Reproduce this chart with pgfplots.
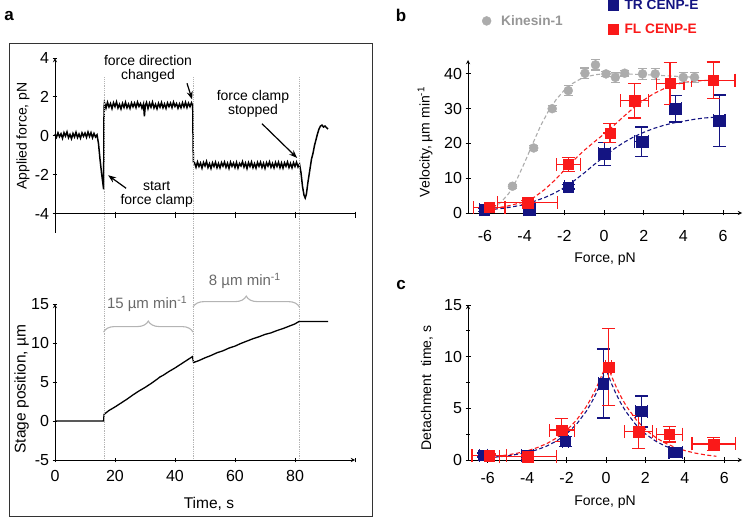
\documentclass[border=0pt]{standalone}
\usepackage{fontspec}
\setmainfont{Liberation Sans}
\usepackage{pgfplots}
\usepackage{pgfplotstable}
\pgfplotsset{compat=1.18}
\usetikzlibrary{arrows.meta,decorations.pathreplacing}

\definecolor{navyc}{RGB}{20,20,130}
\definecolor{redc}{RGB}{250,25,25}
\definecolor{grayc}{RGB}{172,172,172}
\definecolor{graytext}{RGB}{150,150,150}
\definecolor{bracegray}{RGB}{180,180,180}
\definecolor{labelgray}{RGB}{105,105,105}

\pgfplotstableread{
t f
0 0.10
0.5 -0.08
1 0.15
1.5 -0.05
2 0.10
2.5 -0.13
3 0.16
3.5 -0.02
4 0.20
4.5 -0.10
5 0.07
5.5 -0.15
6 0.12
6.5 -0.06
7 0.18
7.5 -0.09
8 0.09
8.5 -0.12
9 0.15
9.5 -0.03
10 0.14
10.5 -0.08
11 0.19
11.5 -0.04
12 0.16
12.5 -0.10
13 0.12
13.5 -0.06
14 0.05
14.5 -0.4
15 -1.2
15.5 -1.9
16 -2.5
16.2 -2.75
16.35 1.45
16.5 1.70
17 1.42
17.5 1.72
18 1.48
18.5 1.66
19 1.40
19.5 1.70
20 1.50
20.5 1.74
21 1.43
21.5 1.62
22 1.38
22.5 1.67
23 1.46
23.5 1.72
24 1.44
24.5 1.63
25 1.41
25.5 1.69
26 1.49
26.5 1.68
27 1.45
27.5 1.73
28 1.51
28.5 1.66
29 1.42
29.5 1.64
29.8 1.0
30.1 1.55
30.5 1.71
31 1.40
31.5 1.68
32 1.47
32.5 1.73
33 1.43
33.5 1.62
34 1.39
34.5 1.67
35 1.47
35.5 1.71
36 1.44
36.5 1.64
37 1.41
37.5 1.69
38 1.50
38.5 1.68
39 1.45
39.5 1.73
40 1.51
40.5 1.66
41 1.42
41.5 1.64
42 1.44
42.5 1.70
43 1.48
43.5 1.72
44 1.45
44.5 1.68
45 1.50
45.5 1.70
45.9 1.55
46.05 -0.6
46.15 -1.35
46.5 -1.38
47 -1.62
47.5 -1.35
48 -1.58
48.5 -1.40
49 -1.66
49.5 -1.37
50 -1.55
50.5 -1.32
51 -1.63
51.5 -1.43
52 -1.68
52.5 -1.39
53 -1.58
53.5 -1.36
54 -1.64
54.5 -1.42
55 -1.65
55.5 -1.38
56 -1.56
56.5 -1.35
57 -1.62
57.5 -1.41
58 -1.67
58.5 -1.36
59 -1.57
59.5 -1.40
60 -1.63
60.5 -1.37
61 -1.66
61.5 -1.42
62 -1.55
62.5 -1.33
63 -1.61
63.5 -1.40
64 -1.68
64.5 -1.38
65 -1.58
65.5 -1.35
66 -1.64
66.5 -1.43
67 -1.66
67.5 -1.37
68 -1.57
68.5 -1.36
69 -1.63
69.5 -1.41
70 -1.67
70.5 -1.38
71 -1.56
71.5 -1.34
72 -1.62
72.5 -1.42
73 -1.65
73.5 -1.37
74 -1.58
74.5 -1.36
75 -1.64
75.5 -1.40
76 -1.66
76.5 -1.39
77 -1.57
77.5 -1.35
78 -1.63
78.5 -1.42
79 -1.65
79.5 -1.38
80 -1.58
80.5 -1.36
81 -1.60
81.5 -1.45
82 -1.9
82.5 -2.6
83 -3.05
83.4 -3.2
83.8 -3.0
84.3 -2.4
85 -1.7
85.5 -1.2
86 -0.9
86.5 -0.5
87 -0.2
87.5 0.1
88 0.35
88.5 0.5
89 0.55
89.5 0.45
90 0.5
90.5 0.42
91 0.35
}\forcedata

\pgfplotstableread{
t s
0 0
16.2 0
16.35 0.85
18 1.35
20 1.8
22 2.3
24 2.8
26 3.35
28 3.85
30 4.3
32 4.8
34 5.35
35 5.65
36 5.85
38 6.35
40 6.8
42 7.3
44 7.8
45.8 8.25
46.2 7.5
48 7.75
50 8.1
52 8.4
54 8.75
56 9.0
58 9.35
60 9.6
62 9.95
64 10.25
66 10.55
68 10.8
70 11.1
72 11.3
74 11.6
76 11.85
78 12.15
80 12.45
81.3 12.75
91 12.75
}\stagedata

% panel b
\pgfplotstableread{
x y ey
-4.61 7.7 0.6
-3.54 18.7 0.8
-2.61 30.0 0.8
-1.80 35.2 1.5
-0.96 40.2 1.5
-0.43 42.6 1.5
0.10 40.0 0.8
0.57 39.0 1.5
1.04 40.2 0.8
1.94 40.0 1.5
2.58 40.0 1.5
3.99 39.0 1.5
4.56 39.0 1.5
}\kinb

\pgfplotstableread{
x y ex ey
-5.78 1.6 0.8 0.6
-3.85 3.0 1.5 0.6
-1.80 14.0 0.6 2.0
0.30 23.0 0.0 2.7
1.54 32.3 0.7 5.0
3.33 37.3 0.7 6.0
5.50 38.2 1.1 5.2
}\redb

\pgfplotstableread{
x y ex ey
-6.03 0.9 0.25 0.4
-3.77 1.0 0.3 0.4
-1.80 7.5 0.2 0.6
0.03 17.0 0.3 3.3
1.90 20.5 0.35 4.2
3.61 30.0 0.3 3.8
5.80 26.5 0.3 7.4
}\navyb

\pgfplotstableread{
x y
-5.6 1.5
-5.2 3.0
-4.8 5.6
-4.4 9.5
-4.0 14.5
-3.6 19.8
-3.2 25.0
-2.8 29.3
-2.4 32.7
-2.0 35.3
-1.6 37.2
-1.2 38.5
-0.8 39.3
-0.4 39.8
0 40.0
1 40.0
2 39.8
3 39.5
4 39.2
4.7 39.0
}\kinfit

\pgfplotstableread{
x y
-6.2 1.1
-5 1.8
-4 3.2
-3.5 4.6
-3 6.7
-2.5 9.3
-2 12.3
-1.5 15.3
-1 18.0
-0.5 20.4
0 22.7
0.5 25.2
1 27.8
1.5 30.3
2 32.5
2.5 34.3
3 35.7
3.5 36.8
4 37.5
4.5 37.9
5 38.1
5.6 38.2
}\redfitb

\pgfplotstableread{
x y
-6.2 0.7
-5 1.4
-4 2.4
-3 4.4
-2.5 5.7
-2 7.3
-1.5 9.3
-1 11.5
-0.5 13.9
0 16.2
0.5 18.4
1 20.3
1.5 21.9
2 23.2
2.5 24.3
3 25.2
3.5 25.9
4 26.4
4.5 26.9
5 27.3
5.7 27.6
}\navyfitb

% panel c
\pgfplotstableread{
x y ex ey
-6.22 0.48 0.2 0.2
-3.97 0.42 0.3 0.2
-2.06 1.8 0.15 0.5
-0.13 7.4 0.25 3.35
1.81 4.7 0.3 1.5
3.54 0.74 0.35 0.15
}\navyc

\pgfplotstableread{
x y ex ey
-5.93 0.42 0.87 0.15
-3.97 0.32 1.45 0.15
-2.24 2.9 0.63 1.1
0.14 9.0 0.15 3.7
1.65 2.74 0.7 1.6
3.22 2.5 0.65 0.75
5.46 1.55 1.1 0.65
}\redc

\pgfplotstableread{
x y
-6.2 0.25
-5.5 0.36
-5 0.49
-4.5 0.66
-4 0.88
-3.5 1.19
-3 1.59
-2.5 2.14
-2 2.86
-1.5 3.85
-1 5.16
-0.75 5.98
-0.5 6.93
-0.25 8.03
0.05 9.3
0.3 8.03
0.55 6.93
0.8 5.98
1.05 5.16
1.55 3.85
2.05 2.86
2.55 2.14
3.05 1.59
3.55 1.19
4.05 0.88
4.55 0.66
5.05 0.49
5.6 0.36
}\redfitc

\pgfplotstableread{
x y
-6.3 0.17
-6 0.21
-5 0.39
-4 0.72
-3.5 0.99
-3 1.35
-2.5 1.85
-2 2.53
-1.5 3.45
-1 4.71
-0.75 5.51
-0.5 6.44
-0.25 7.52
0 8.8
0.25 7.52
0.5 6.44
0.75 5.51
1 4.71
1.5 3.45
2 2.53
2.5 1.85
3 1.35
3.5 0.99
3.8 0.82
}\navyfitc

\pgfplotsset{
  mystyle/.style={
    scale only axis, clip=false,
    axis line style={line width=0.9bp,-},
    tick style={line width=0.9bp,black},
    major tick length=5bp, minor tick length=4bp,
    tick align=outside,
    tick label style={font=\fontsize{16bp}{18bp}\selectfont},
    label style={font=\fontsize{14bp}{17bp}\selectfont},
    /pgf/number format/assume math mode=true,
  },
  errstyle/.style={only marks, mark=square*, mark size=5.2bp, color=#1,
    error bars/.cd, x dir=both, x explicit, y dir=both, y explicit,
    error bar style={line width=1.3bp,#1},
    error mark options={rotate=90, line width=1.3bp, mark size=6.5bp,#1}},
  fitstyle/.style={no marks, #1, line width=1.1bp, dash pattern=on 4bp off 2.5bp},
}

\begin{document}
\begin{tikzpicture}
\path[use as bounding box] (0,0) rectangle (745bp,523bp);

% ---------------- panel a ----------------
\draw[line width=1bp, black!80] (9bp,6bp) rectangle (372bp,479bp);
\node[font=\bfseries\fontsize{17bp}{17bp}\selectfont] at (9bp,507bp) {a};

\begin{axis}[mystyle, at={(55bp,290bp)}, anchor=south west, width=300bp, height=175bp,
  xmin=0, xmax=100, ymin=-5, ymax=4,
  axis y line=left, axis x line=none,
  ytick={-4,-2,0,2,4}, yticklabels={-4,-2,0,2,4},
  ylabel={Applied force, pN},
  ylabel style={at={(axis description cs:-0.107,0.554)}, anchor=center},
]
\addplot[black, line width=1.5bp] table[x=t,y=f] {\forcedata};
\draw[line width=0.9bp] (axis cs:0,-4) -- (axis cs:100,-4);
\draw[line width=0.9bp] (axis cs:20,-3.9) -- (axis cs:20,-4.25);
\draw[line width=0.9bp] (axis cs:40,-3.9) -- (axis cs:40,-4.25);
\draw[line width=0.9bp] (axis cs:60,-3.9) -- (axis cs:60,-4.25);
\draw[line width=0.9bp] (axis cs:80,-3.9) -- (axis cs:80,-4.25);
\draw[line width=0.9bp] (axis cs:100,-3.9) -- (axis cs:100,-4.25);
\node[align=center, font=\fontsize{14bp}{14bp}\selectfont] at (axis cs:31,3.43) {force direction\\changed};
\node[align=center, font=\fontsize{14bp}{14bp}\selectfont] at (axis cs:66,1.64) {force clamp\\stopped};
\node[align=center, font=\fontsize{14bp}{14bp}\selectfont] at (axis cs:33.9,-3.0) {start\\force clamp};
\draw[line width=1.2bp, -{Stealth[length=8bp,width=6bp]}] (axis cs:44,2.7) -- (axis cs:45.7,1.87);
\draw[line width=1.2bp, -{Stealth[length=8bp,width=6bp]}] (axis cs:69,0.62) -- (axis cs:80.7,-1.14);
\draw[line width=1.2bp, -{Stealth[length=8bp,width=6bp]}] (axis cs:23.7,-2.7) -- (axis cs:17.7,-2.03);
\coordinate (d1) at (axis cs:16.3,3.0);
\coordinate (d2) at (axis cs:46,3.0);
\coordinate (d3) at (axis cs:81.5,3.0);
\end{axis}

\begin{axis}[mystyle, at={(55bp,63bp)}, anchor=south west, width=300bp, height=156bp,
  xmin=0, xmax=100, ymin=-5, ymax=15,
  axis x line=bottom, axis y line=left,
  xtick={0,20,40,60,80,100}, xticklabels={0,20,40,60,80,{}},
  ytick={-5,0,5,10,15}, yticklabels={-5,0,5,10,15},
  xticklabel style={yshift=-4bp},
  xlabel={Time, s}, ylabel={Stage position, µm},
  label style={font=\fontsize{15.5bp}{18bp}\selectfont},
  xlabel style={at={(axis description cs:0.513,-0.282)}, anchor=center},
  ylabel style={at={(axis description cs:-0.111,0.455)}, anchor=center},
]
\addplot[black, line width=1.3bp] table[x=t,y=s] {\stagedata};
\draw[bracegray, line width=1.1bp, decorate, decoration={brace, amplitude=11bp}] (axis cs:16.2,11.4) -- (axis cs:46,11.4);
\draw[bracegray, line width=1.1bp, decorate, decoration={brace, amplitude=11bp}] (axis cs:46,14.6) -- (axis cs:81.5,14.6);
\node[labelgray, font=\fontsize{15bp}{15bp}\selectfont] at (axis cs:30.7,15.0) {15 µm min\textsuperscript{-1}};
\node[labelgray, font=\fontsize{15bp}{15bp}\selectfont] at (axis cs:63.3,18.0) {8 µm min\textsuperscript{-1}};
\coordinate (e1) at (axis cs:16.3,-5);
\coordinate (e2) at (axis cs:46,-5);
\coordinate (e3) at (axis cs:81.5,-5);
\end{axis}

\draw[bracegray, line width=0.8bp, densely dotted] (d1) -- (e1);
\draw[bracegray, line width=0.8bp, densely dotted] (d2) -- (e2);
\draw[bracegray, line width=0.8bp, densely dotted] (d3) -- (e3);

% ---------------- panel b ----------------
\node[font=\bfseries\fontsize{17bp}{17bp}\selectfont] at (401bp,508bp) {b};

\begin{axis}[mystyle, at={(468bp,310bp)}, anchor=south west, width=274bp, height=153bp,
  xmin=-6.85, xmax=6.95, ymin=0, ymax=44,
  axis x line=bottom, axis y line=left,
  xtick={-6,-4,-2,0,2,4,6}, xticklabels={-6,-4,-2,0,2,4,6},
  ytick={0,10,20,30,40}, yticklabels={0,10,20,30,40},
  xticklabel style={yshift=-11bp},
  xlabel={Force, pN}, ylabel={Velocity, µm min\textsuperscript{-1}},
  xlabel style={at={(axis description cs:0.5,-0.30)}, anchor=center},
  ylabel style={at={(axis description cs:-0.157,0.464)}, anchor=center},
  legend style={at={(axis description cs:0.50,1.42)}, anchor=north west, draw=none, fill=none,
    font=\bfseries\fontsize{13.7bp}{16bp}\selectfont, row sep=9bp, column sep=4bp},
  legend cell align=left,
]
\addplot[fitstyle=grayc, forget plot] table[x=x,y=y] {\kinfit};
\addplot[fitstyle=redc, forget plot] table[x=x,y=y] {\redfitb};
\addplot[fitstyle=navyc, forget plot] table[x=x,y=y] {\navyfitb};
\addplot[only marks, mark=*, mark size=4.5bp, grayc, forget plot,
  error bars/.cd, y dir=both, y explicit,
  error bar style={line width=1.2bp,grayc},
  error mark options={rotate=90, line width=1.2bp, mark size=4.5bp, grayc}]
  table[x=x,y=y,y error=ey] {\kinb};
\addplot[errstyle=navyc] table[x=x,y=y,x error=ex,y error=ey] {\navyb};
\addlegendentry{\textcolor{navyc}{TR CENP-E}}
\addplot[errstyle=redc] table[x=x,y=y,x error=ex,y error=ey] {\redb};
\addlegendentry{\textcolor{redc}{FL CENP-E}}
\end{axis}

\begin{axis}[scale only axis, at={(468bp,310bp)}, anchor=south west, width=274bp, height=153bp,
  xmin=-6.85, xmax=6.95, ymin=0, ymax=44, hide axis,
  legend style={at={(axis description cs:0.04,1.32)}, anchor=north west, draw=none, fill=none,
    font=\bfseries\fontsize{13.7bp}{16bp}\selectfont, column sep=8bp},
]
\addlegendimage{only marks, mark=*, mark size=4.5bp, grayc}
\addlegendentry{\textcolor{graytext}{Kinesin-1}}
\end{axis}

% ---------------- panel c ----------------
\node[font=\bfseries\fontsize{17bp}{17bp}\selectfont] at (401bp,238bp) {c};

\begin{axis}[mystyle, at={(468bp,63bp)}, anchor=south west, width=274bp, height=155bp,
  xmin=-7.0, xmax=6.9, ymin=0, ymax=15,
  axis x line=bottom, axis y line=left,
  xtick={-6,-4,-2,0,2,4,6}, xticklabels={-6,-4,-2,0,2,4,6},
  ytick={0,5,10,15}, yticklabels={0,5,10,15},
  minor ytick={2.5,7.5,12.5},
  xticklabel style={yshift=-6bp},
  xlabel={Force, pN}, ylabel={Detachment\ \ time, s},
  xlabel style={at={(axis description cs:0.5,-0.272)}, anchor=center},
  ylabel style={at={(axis description cs:-0.15,0.465)}, anchor=center},
]
\addplot[fitstyle=redc] table[x=x,y=y] {\redfitc};
\addplot[fitstyle=navyc] table[x=x,y=y] {\navyfitc};
\addplot[errstyle=navyc] table[x=x,y=y,x error=ex,y error=ey] {\navyc};
\addplot[errstyle=redc] table[x=x,y=y,x error=ex,y error=ey] {\redc};
\end{axis}

\end{tikzpicture}
\end{document}
